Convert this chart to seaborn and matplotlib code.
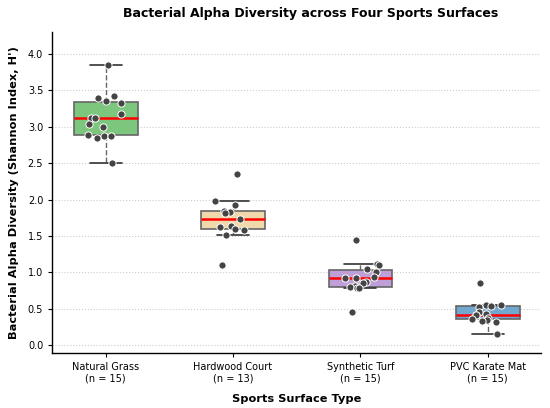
import matplotlib
matplotlib.use("Agg")
import matplotlib.pyplot as plt
import seaborn as sns
import pandas as pd
import numpy as np

categories = ["Natural Grass", "Hardwood Court", "Synthetic Turf", "PVC Karate Mat"]
natural_grass = [3.85, 3.42, 3.40, 3.36, 3.33, 3.18, 3.12, 3.12, 3.04, 3.00, 2.89, 2.88, 2.88, 2.85, 2.50]
hardwood_court = [2.35, 1.98, 1.93, 1.85, 1.83, 1.81, 1.74, 1.64, 1.62, 1.59, 1.58, 1.52, 1.10]
synthetic_turf = [1.45, 1.12, 1.10, 1.05, 1.01, 0.94, 0.92, 0.92, 0.87, 0.86, 0.81, 0.80, 0.79, 0.78, 0.45]
pvc_mat = [0.85, 0.55, 0.55, 0.54, 0.53, 0.45, 0.43, 0.42, 0.41, 0.38, 0.36, 0.35, 0.33, 0.32, 0.15]
colors = ["#7dc67d", "#efd8aa", "#bf9fd8", "#72a8d0"]

series = [natural_grass, hardwood_court, synthetic_turf, pvc_mat]
rows = []
for cat, vals in zip(categories, series):
    for v in vals:
        rows.append({"Surface": cat, "Diversity": v})
df = pd.DataFrame(rows)

sns.set_style("white")
plt.rcParams['font.family'] = ['DejaVu Sans']
plt.rcParams.update({"text.color": "black", "axes.labelcolor": "black",
                     "xtick.color": "black", "ytick.color": "black"})
np.random.seed(3)

fig, ax = plt.subplots(figsize=(5.5, 4.08), dpi=100)

sns.boxplot(data=df, x="Surface", y="Diversity", hue="Surface", order=categories,
            palette=colors, saturation=1, width=0.5, showfliers=False, legend=False, ax=ax,
            boxprops=dict(edgecolor="#666666", linewidth=1.2),
            medianprops=dict(color="red", linewidth=1.8),
            whiskerprops=dict(color="#666666", linestyle="--", linewidth=1.0),
            capprops=dict(color="#333333", linewidth=1.2))

sns.stripplot(data=df, x="Surface", y="Diversity", order=categories, color="#444444",
              size=5.2, jitter=0.15, edgecolor="white", linewidth=0.7, ax=ax)

ax.set_ylim(-0.1, 4.3)
ax.set_xlim(-0.42, 3.42)
ax.set_yticks([0.0, 0.5, 1.0, 1.5, 2.0, 2.5, 3.0, 3.5, 4.0])
ax.yaxis.grid(True, linestyle=":", color="#cccccc", linewidth=0.8)
ax.set_axisbelow(True)
labels = [f"{c}\n(n = {len(v)})" for c, v in zip(categories, series)]
ax.set_xticks(range(len(categories)))
ax.set_xticklabels(labels)
ax.tick_params(axis="both", labelsize=7, length=3, color="black")
ax.tick_params(axis="x", bottom=True)
ax.tick_params(axis="y", left=True)
for s in ["left", "bottom"]:
    ax.spines[s].set_color("black")
    ax.spines[s].set_linewidth(1.0)
sns.despine(ax=ax)

fig.text(0.565, 1 - 13 / 408, "Bacterial Alpha Diversity across Four Sports Surfaces",
         fontsize=9, fontweight="bold", ha="center", va="center", color="black")
ax.set_xlabel("Sports Surface Type", fontsize=8.2, fontweight="bold", labelpad=8)
ax.set_ylabel("Bacterial Alpha Diversity (Shannon Index, H')", fontsize=8.2, fontweight="bold", labelpad=6)

fig.subplots_adjust(left=0.095, right=0.984, top=0.921, bottom=0.136)
fig.savefig("out.png", dpi=100)
